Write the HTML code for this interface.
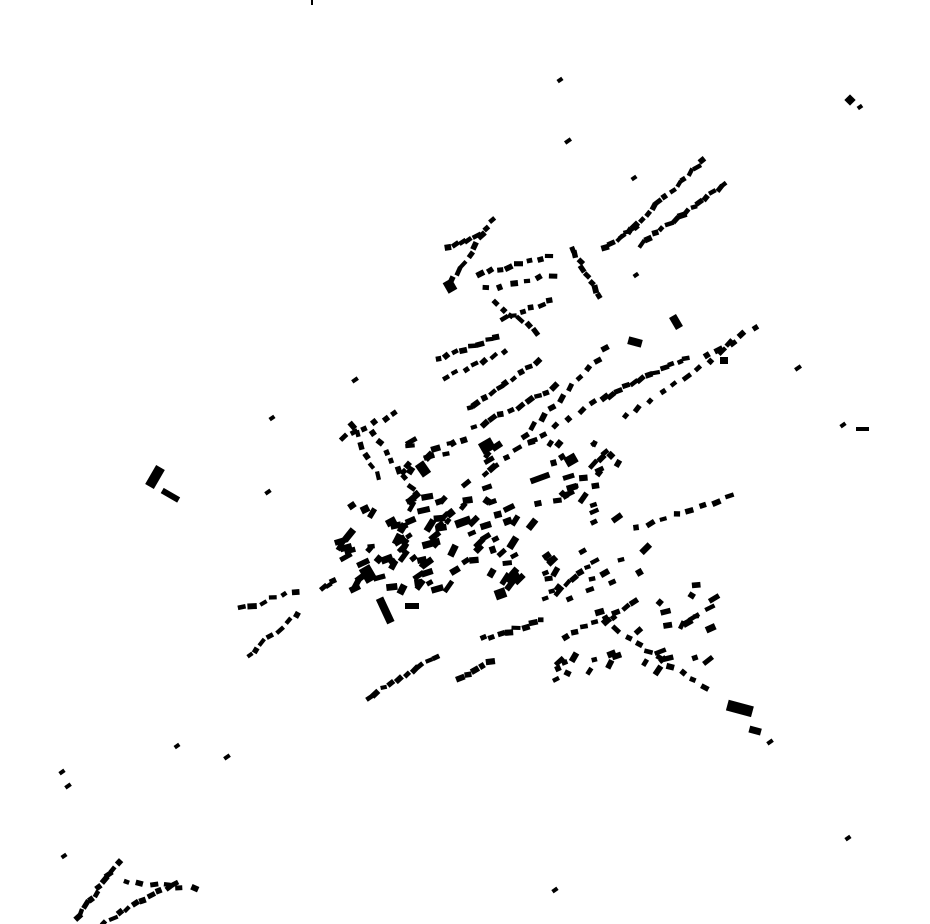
<!DOCTYPE html>
<html><head><meta charset="utf-8"><style>
html,body{margin:0;padding:0;background:#fff;width:930px;height:924px;overflow:hidden}
svg{display:block}
</style></head><body>
<svg id="m" width="930" height="924" viewBox="0 0 930 924" xmlns="http://www.w3.org/2000/svg">
<g fill="#000">
<rect x="311" y="0" width="2" height="5"/>
<rect x="150" y="466" width="10" height="22" transform="rotate(30 155 477)"/>
<rect x="161" y="492" width="19" height="6" transform="rotate(30 170 495)"/>
<rect x="381" y="597" width="8" height="27" transform="rotate(-25 385 610)"/>
<rect x="727" y="703" width="26" height="11" transform="rotate(15 740 708)"/>
<rect x="749" y="727" width="12" height="7" transform="rotate(15 755 731)"/>
<rect x="495" y="589" width="11" height="10" transform="rotate(-20 500 594)"/>
<rect x="405" y="603" width="14" height="6"/>
<rect x="846" y="96" width="8" height="8" transform="rotate(45 850 100)"/>
<rect x="856" y="427" width="13" height="4"/>
<rect x="628" y="338" width="14" height="8" transform="rotate(15 635 342)"/>
<rect x="672" y="315" width="8" height="14" transform="rotate(-30 676 322)"/>
<rect x="362" y="566" width="12" height="16" transform="rotate(-30 368 574)"/>
<rect x="418" y="462" width="10" height="14" transform="rotate(-35 423 469)"/>
<rect x="530" y="475" width="20" height="6" transform="rotate(-20 540 478)"/>
<rect x="455" y="518" width="16" height="8" transform="rotate(-20 463 522)"/>
<rect x="422" y="540" width="18" height="7" transform="rotate(-15 431 543)"/>
<rect x="720" y="357" width="8" height="7"/>
<rect x="445" y="280" width="10" height="12" transform="rotate(-30 450 286)"/>
<rect x="480" y="440" width="14" height="12" transform="rotate(-30 487 446)"/>
<rect x="565" y="455" width="12" height="10" transform="rotate(-30 571 460)"/>
</g>
<g id="d" fill="#000"></g>
</svg>
<script>
var s=12345;function r(){s=(s*16807)%2147483647;return s/2147483647;}
var g=document.getElementById('d'),h='';
function dot(x,y,w,hh,a){h+='<rect x="'+(x-w/2).toFixed(1)+'" y="'+(y-hh/2).toFixed(1)+'" width="'+w.toFixed(1)+'" height="'+hh.toFixed(1)+'" transform="rotate('+a.toFixed(0)+' '+x.toFixed(1)+' '+y.toFixed(1)+')"/>';}
var K=1.35;
function line(x1,y1,x2,y2,n,sz){sz=(sz||1)*K;var a=Math.atan2(y2-y1,x2-x1)*180/Math.PI;for(var i=0;i<n;i++){var t=(i+0.5)/n;dot(x1+(x2-x1)*t+(r()-.5)*3,y1+(y2-y1)*t+(r()-.5)*3,(4+r()*3)*sz,(3+r()*1.5)*sz,a+(r()-.5)*40);}}
function area(x1,y1,x2,y2,n,sz){sz=(sz||1)*K;for(var i=0;i<n;i++){dot(x1+r()*(x2-x1),y1+r()*(y2-y1),(4+r()*5)*sz,(3+r()*2)*sz,-35+(r()-.5)*60);}}
var L=[[640,245,728,182,14],[620,240,705,158,14],[600,250,640,225,5],
[450,285,495,215,8],[475,275,555,255,8],[480,290,560,275,6],[500,320,555,300,6],[490,300,540,335,6],[570,245,600,300,8],[445,250,480,235,5],
[435,360,500,335,8],[440,380,510,350,7],[465,410,540,360,10],[470,430,560,385,10],[520,440,610,345,10],[500,460,600,400,8],
[340,440,400,410,6],[350,420,380,480,6],[370,430,420,500,8],
[600,400,690,355,12],[620,420,740,340,10],[700,360,760,325,5],
[600,620,710,690,10],[365,700,440,655,10],[455,680,495,660,5],[480,640,545,620,8],
[235,610,300,590,6],[250,655,300,610,6],[320,590,335,578,3],[630,530,735,495,8],
[75,920,120,860,10],[100,924,180,880,10],[120,880,200,890,6],[540,600,600,560,8],[560,640,640,600,8]];
L.forEach(function(l){line(l[0],l[1],l[2],l[3],l[4]);});
area(340,500,520,590,90,1.1);area(530,440,620,530,30);area(540,540,720,680,50);area(400,440,500,510,25);
[[62,772],[68,786],[227,757],[177,746],[555,890],[848,838],[843,425],[798,368],[568,141],[560,80],[268,492],[272,418],[355,380],[770,742],[860,107],[64,856],[634,178],[636,275],[250,655]].forEach(function(p){dot(p[0],p[1],5+r()*2,4,-35);});
g.innerHTML=h;
</script>
</body></html>
